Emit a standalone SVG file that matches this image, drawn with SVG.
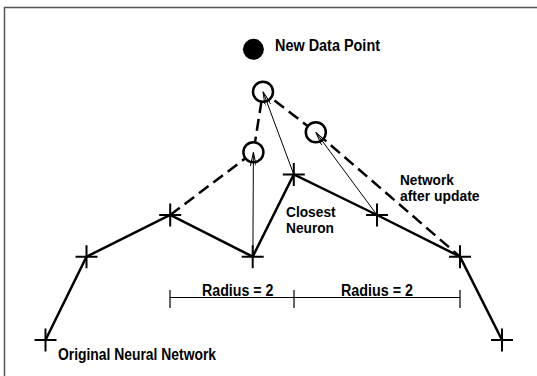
<svg xmlns="http://www.w3.org/2000/svg" width="537" height="376" viewBox="0 0 537 376">
<style>
.t{font-family:"Liberation Sans",Arial,sans-serif;font-weight:bold;font-size:16px;fill:#000}
.t2{font-family:"Liberation Sans",Arial,sans-serif;font-weight:bold;font-size:14px;fill:#000}
.net{fill:none;stroke:#000;stroke-width:2.5;stroke-linejoin:miter}
.dash{fill:none;stroke:#000;stroke-width:2.5;stroke-dasharray:12 6}
.cross{stroke:#000;stroke-width:2}
.ring{fill:#fff;stroke:#000;stroke-width:2.5}
.arr{stroke:#000;stroke-width:1;fill:none;marker-end:url(#ah)}
.dim{stroke:#000;stroke-width:1.2;fill:none}
</style>
<defs>
<marker id="ah" viewBox="0 0 14 6" refX="14" refY="3" markerWidth="14" markerHeight="6" markerUnits="userSpaceOnUse" orient="auto">
<path d="M0,0 L14,3 L0,6" fill="none" stroke="#000" stroke-width="1"/>
</marker>
<path id="x" d="M-11,0 H11 M0,-11.5 V11.5"/>
</defs>
<rect x="4.5" y="7.5" width="540" height="380" fill="none" stroke="#555" stroke-width="1.5"/>
<g id="connectors">
<polyline class="net" points="45.5,340 86.5,256.7 170.2,215 252.7,256.7 293.8,174.5 377,215 460,256.7 502,340"/>
<polyline class="dash" points="170.2,215 253.4,152.3 263,91.7 315.8,132.3 460,256.7"/>
</g>
<g id="nodes">
<g id="n1" class="cross"><use href="#x" x="45.5" y="340"/></g>
<g id="n2" class="cross"><use href="#x" x="86.5" y="256.7"/></g>
<g id="n3" class="cross"><use href="#x" x="170.2" y="215"/></g>
<g id="n4" class="cross"><use href="#x" x="252.7" y="256.7"/></g>
<g id="n5" class="cross"><use href="#x" x="293.8" y="174.5"/></g>
<g id="n6" class="cross"><use href="#x" x="377" y="215"/></g>
<g id="n7" class="cross"><use href="#x" x="460" y="256.7"/></g>
<g id="n8" class="cross"><use href="#x" x="502" y="340"/></g>
<g id="c1"><circle class="ring" cx="253.4" cy="152.3" r="10"/></g>
<g id="c2"><circle class="ring" cx="263" cy="91.7" r="10"/></g>
<g id="c3"><circle class="ring" cx="315.8" cy="132.3" r="10"/></g>
<g id="datapoint"><circle cx="253.4" cy="49.3" r="10.5" fill="#000"/><text class="t" x="275" y="51" textLength="105" lengthAdjust="spacingAndGlyphs">New Data Point</text></g>
</g>
<g id="arrows">
<line class="arr" x1="252.9" y1="256.7" x2="253.4" y2="152.3"/>
<line class="arr" x1="293.8" y1="174.5" x2="263" y2="91.7"/>
<line class="arr" x1="377" y1="215" x2="315.8" y2="132.3"/>
</g>
<g id="dimension">
<path class="dim" d="M170,297.5 H460 M170,290 V308 M294,290 V308 M460,290 V308"/>
<text class="t" x="202" y="296" textLength="71.5" lengthAdjust="spacingAndGlyphs">Radius = 2</text>
<text class="t" x="341" y="296" textLength="72" lengthAdjust="spacingAndGlyphs">Radius = 2</text>
</g>
<g id="labels">
<text class="t2" x="286" y="216.5" textLength="49.6" lengthAdjust="spacingAndGlyphs">Closest</text>
<text class="t2" x="286" y="232.5" textLength="48" lengthAdjust="spacingAndGlyphs">Neuron</text>
<text class="t2" x="400" y="184.5" textLength="53.8" lengthAdjust="spacingAndGlyphs">Network</text>
<text class="t2" x="400" y="200.5" textLength="79.5" lengthAdjust="spacingAndGlyphs">after update</text>
<text class="t" x="58" y="360" textLength="158" lengthAdjust="spacingAndGlyphs">Original Neural Network</text>
</g>
</svg>
